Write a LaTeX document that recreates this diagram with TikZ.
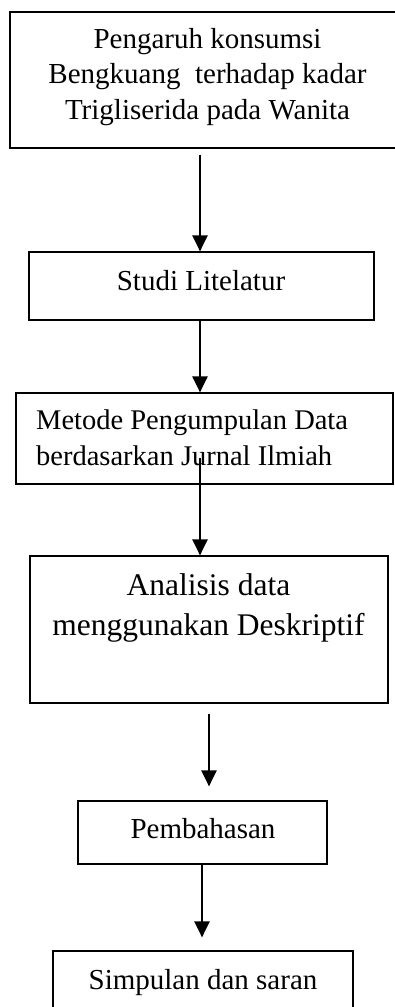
\documentclass[tikz,border=0pt]{standalone}
\usepackage{fontspec}
\setmainfont{Liberation Serif}
\usetikzlibrary{arrows.meta}

\tikzset{
  stage/.style={draw=black, line width=1.2pt, inner sep=0pt, anchor=center},
  caption/.style={inner sep=0pt, align=center, anchor=base,
    font=\fontsize{29pt}{35.5pt}\selectfont},
  flow/.style={line width=2.5pt, -{Triangle[length=16pt,width=15pt]}}
}

\begin{document}
\begin{tikzpicture}[x=1pt, y=-1pt]
  \useasboundingbox (0,0) rectangle (394,1007);

  % boxes of the flow
  \node[stage, minimum width=394pt, minimum height=136pt] (b1) at (207,80) {};
  \node[stage, minimum width=345pt, minimum height=68pt]  (b2) at (201.5,286) {};
  \node[stage, minimum width=377pt, minimum height=91pt]  (b3) at (204.5,438.5) {};
  \node[stage, minimum width=358pt, minimum height=147pt] (b4) at (209,629.5) {};
  \node[stage, minimum width=249pt, minimum height=63pt]  (b5) at (202.5,832.5) {};
  \node[stage, minimum width=300pt, minimum height=74pt]  (b6) at (203,988) {};

  % texts (multi-line texts are placed by the baseline of their last line)
  \node[caption] (t1) at (207.5,119) {Pengaruh konsumsi\\Bengkuang~ terhadap kadar\\Trigliserida pada Wanita};
  \node[caption] (t2) at (201,290) {Studi Litelatur};
  \node[caption, align=left, anchor=base west,
        font=\fontsize{28.5pt}{36pt}\selectfont] (t3) at (36,465)
        {Metode Pengumpulan Data\\berdasarkan Jurnal Ilmiah};
  \node[caption, font=\fontsize{31.5pt}{40pt}\selectfont] (t4) at (208.5,635)
        {Analisis data\\menggunakan Deskriptif};
  \node[caption] (t5) at (203,838) {Pembahasan};
  \node[caption] (t6) at (203,989) {Simpulan dan saran};

  % arrows
  \draw[flow] ([xshift=-7pt,yshift=-6pt]b1.south) -- ([xshift=-1.5pt]b2.north);
  \draw[flow] ([xshift=-1.5pt]b2.south) -- ([xshift=-4.5pt]b3.north);
  \draw[flow] ([xshift=-4.5pt,yshift=27pt]b3.south) -- ([xshift=-9pt]b4.north);
  \draw[flow] ([yshift=-10pt]b4.south) -- ([xshift=6.5pt,yshift=14pt]b5.north);
  \draw[flow] ([xshift=-0.5pt]b5.south) -- ([xshift=-1pt,yshift=13pt]b6.north);
\end{tikzpicture}
\end{document}
